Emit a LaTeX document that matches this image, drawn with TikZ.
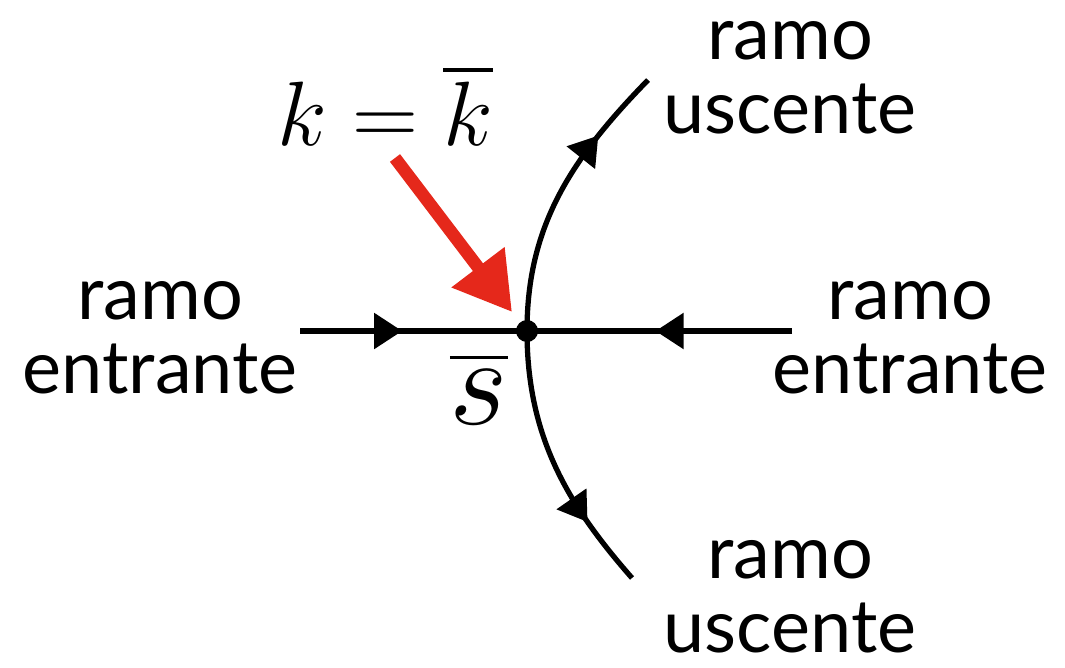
\documentclass[tikz,border=0pt]{standalone}
\usepackage{fix-cm}
\usepackage{fontspec}
\setmainfont{Lato}
\usepackage{amsmath}
\usetikzlibrary{arrows.meta, positioning, decorations.markings, calc}
\definecolor{ArrowRed}{HTML}{E5281B}

\begin{document}
\begin{tikzpicture}[
  x=0.01cm, y=-0.01cm,
  branch/.style={line width=1.5pt, black},
  midtip/.style={postaction={decorate}, decoration={markings,
                 mark=at position #1 with {\arrow{Triangle[length=8pt, width=10pt]}}}},
  lbl/.style={font=\fontsize{21}{21}\selectfont, align=center, inner sep=0pt},
  mathlbl/.style={font=\fontsize{26}{28}\selectfont, inner sep=0pt},
  pointer/.style={-{Triangle[length=16pt, width=18pt]}, line width=3.6pt, ArrowRed},
]
\useasboundingbox (0,0) rectangle (1065,667);

% punto doppio
\coordinate (sbar) at (527,331);
\coordinate (inL) at (300,331);
\coordinate (inR) at (792,331);
\coordinate (outU) at (648,80);
\coordinate (outD) at (632,578);

% rami entranti
\draw[branch, midtip=0.45] (inL) -- (sbar);
\draw[branch, midtip=0.515] (inR) -- (sbar);
% rami uscenti
\draw[branch, midtip=0.74] (sbar) .. controls (527,225) and (572,158) .. (outU);
\draw[branch, midtip=0.74] (sbar) .. controls (527,437) and (568,505) .. (outD);
\fill (sbar) circle (11);

\node[lbl] (labL) at (160,338) {ramo\\entrante};
\node[lbl] (labR) at (910,338) {ramo\\entrante};
\node[lbl] (labU) at (790,78) {ramo\\uscente};
\node[lbl] (labD) at (790,597) {ramo\\uscente};

\node[mathlbl] (kval) at (385,105) {$k=\overline{k}$};
\node[mathlbl, font=\fontsize{36}{40}\selectfont] (slab) at (479,388) {$\overline{s}$};

\coordinate (ptail) at (395,158);
\coordinate (phead) at (512,312);
\draw[pointer] (ptail) -- (phead);

\end{tikzpicture}
\end{document}
